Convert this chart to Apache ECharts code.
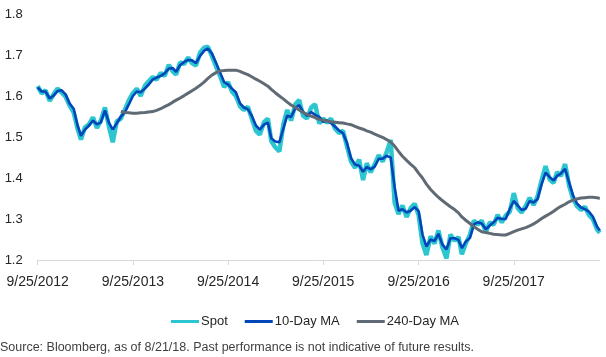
<!DOCTYPE html>
<html>
<head>
<meta charset="utf-8">
<script src="https://cdn.jsdelivr.net/npm/echarts@6/dist/echarts.min.js"></script>
<style>
  html, body { margin: 0; padding: 0; background: #fff; }
  #chart { width: 606px; height: 357px; }
</style>
</head>
<body>
<div id="chart"></div>
<script>
// half-monthly samples, 9/25/2012 .. 8/21/2018
var dates = [
  '2012-09-25','2012-10-10','2012-10-25','2012-11-10','2012-11-25','2012-12-10','2012-12-25',
  '2013-01-10','2013-01-25','2013-02-10','2013-02-25','2013-03-10','2013-03-25','2013-04-10','2013-04-25',
  '2013-05-10','2013-05-25','2013-06-10','2013-06-25','2013-07-10','2013-07-25','2013-08-10','2013-08-25',
  '2013-09-10','2013-09-25','2013-10-10','2013-10-25','2013-11-10','2013-11-25','2013-12-10','2013-12-25',
  '2014-01-10','2014-01-25','2014-02-10','2014-02-25','2014-03-10','2014-03-25','2014-04-10','2014-04-25',
  '2014-05-10','2014-05-25','2014-06-10','2014-06-25','2014-07-10','2014-07-25','2014-08-10','2014-08-25',
  '2014-09-10','2014-09-25','2014-10-10','2014-10-25','2014-11-10','2014-11-25','2014-12-10','2014-12-25',
  '2015-01-10','2015-01-25','2015-02-10','2015-02-25','2015-03-10','2015-03-25','2015-04-10','2015-04-25',
  '2015-05-10','2015-05-25','2015-06-10','2015-06-25','2015-07-10','2015-07-25','2015-08-10','2015-08-25',
  '2015-09-10','2015-09-25','2015-10-10','2015-10-25','2015-11-10','2015-11-25','2015-12-10','2015-12-25',
  '2016-01-10','2016-01-25','2016-02-10','2016-02-25','2016-03-10','2016-03-25','2016-04-10','2016-04-25',
  '2016-05-10','2016-05-25','2016-06-10','2016-06-25','2016-07-10','2016-07-25','2016-08-10','2016-08-25',
  '2016-09-10','2016-09-25','2016-10-10','2016-10-25','2016-11-10','2016-11-25','2016-12-10','2016-12-25',
  '2017-01-10','2017-01-25','2017-02-10','2017-02-25','2017-03-10','2017-03-25','2017-04-10','2017-04-25',
  '2017-05-10','2017-05-25','2017-06-10','2017-06-25','2017-07-10','2017-07-25','2017-08-10','2017-08-25',
  '2017-09-10','2017-09-25','2017-10-10','2017-10-25','2017-11-10','2017-11-25','2017-12-10','2017-12-25',
  '2018-01-10','2018-01-25','2018-02-10','2018-02-25','2018-03-10','2018-03-25','2018-04-10','2018-04-25',
  '2018-05-10','2018-05-25','2018-06-10','2018-06-25','2018-07-10','2018-07-25','2018-08-10','2018-08-21'
];

var spot = [
  1.624,1.606,1.614,1.588,1.604,1.618,1.609,1.598,1.577,1.560,1.520,1.494,1.523,1.531,1.548,1.522,
  1.540,1.572,1.526,1.487,1.538,1.545,1.566,1.590,1.607,1.618,1.600,1.625,1.636,1.646,1.640,1.656,
  1.649,1.676,1.660,1.652,1.682,1.678,1.694,1.680,1.674,1.706,1.718,1.720,1.698,1.672,1.650,1.622,
  1.634,1.611,1.600,1.575,1.566,1.574,1.545,1.515,1.506,1.536,1.545,1.490,1.475,1.465,1.530,1.566,
  1.540,1.580,1.590,1.552,1.545,1.572,1.580,1.533,1.545,1.535,1.545,1.520,1.510,1.515,1.478,1.440,
  1.425,1.445,1.395,1.436,1.414,1.434,1.456,1.440,1.462,1.493,1.340,1.312,1.333,1.305,1.326,1.337,
  1.310,1.240,1.212,1.258,1.240,1.272,1.232,1.204,1.262,1.247,1.256,1.214,1.240,1.262,1.296,1.286,
  1.296,1.268,1.292,1.286,1.310,1.292,1.308,1.318,1.363,1.327,1.316,1.332,1.352,1.334,1.355,1.395,
  1.429,1.396,1.388,1.414,1.405,1.434,1.382,1.350,1.332,1.322,1.330,1.310,1.300,1.275,1.266
];

var ma10 = [
  1.621,1.611,1.611,1.594,1.601,1.612,1.614,1.604,1.582,1.569,1.528,1.503,1.518,1.528,1.540,1.531,
  1.535,1.565,1.535,1.518,1.533,1.550,1.560,1.580,1.600,1.611,1.609,1.618,1.628,1.640,1.645,1.649,
  1.655,1.667,1.668,1.659,1.675,1.683,1.688,1.687,1.680,1.698,1.710,1.716,1.704,1.681,1.658,1.634,
  1.628,1.618,1.609,1.582,1.572,1.568,1.552,1.528,1.518,1.530,1.535,1.497,1.489,1.487,1.520,1.552,
  1.549,1.570,1.578,1.561,1.552,1.561,1.554,1.549,1.537,1.540,1.534,1.525,1.516,1.509,1.486,1.448,
  1.433,1.430,1.415,1.427,1.421,1.428,1.447,1.447,1.454,1.450,1.378,1.320,1.324,1.316,1.320,1.329,
  1.319,1.262,1.233,1.250,1.246,1.264,1.238,1.226,1.253,1.253,1.249,1.229,1.245,1.254,1.287,1.292,
  1.289,1.275,1.284,1.292,1.303,1.300,1.300,1.325,1.344,1.333,1.322,1.325,1.344,1.340,1.348,1.385,
  1.413,1.402,1.394,1.405,1.411,1.422,1.390,1.358,1.338,1.328,1.324,1.318,1.306,1.282,1.272
];

// 240-day average only begins in Aug 2013
var ma240 = [
  null,null,null,null,null,null,null,null,null,null,null,null,null,null,null,null,
  null,null,null,null,null,1.562,1.560,1.559,1.558,1.558,1.559,1.560,1.561,1.562,1.565,1.569,
  1.574,1.579,1.585,1.590,1.595,1.601,1.607,1.613,1.619,1.626,1.634,1.643,1.651,1.657,1.661,1.662,
  1.663,1.663,1.663,1.660,1.656,1.652,1.647,1.641,1.636,1.630,1.624,1.616,1.608,1.600,1.593,1.585,
  1.578,1.572,1.566,1.560,1.555,1.551,1.547,1.543,1.541,1.539,1.537,1.536,1.535,1.534,1.532,1.530,
  1.526,1.522,1.519,1.515,1.512,1.507,1.503,1.499,1.494,1.488,1.478,1.465,1.453,1.443,1.434,1.425,
  1.412,1.400,1.385,1.372,1.362,1.353,1.345,1.337,1.330,1.323,1.315,1.305,1.297,1.289,1.281,1.275,
  1.269,1.267,1.265,1.263,1.262,1.261,1.261,1.265,1.269,1.273,1.276,1.279,1.283,1.288,1.294,1.301,
  1.307,1.313,1.319,1.325,1.331,1.336,1.342,1.346,1.349,1.351,1.352,1.353,1.353,1.352,1.350
];

var tickDates = ['2012-09-25','2013-09-25','2014-09-25','2015-09-25','2016-09-25','2017-09-25'];
var tickLabels = ['9/25/2012','9/25/2013','9/25/2014','9/25/2015','9/25/2016','9/25/2017'];

var FONT = '"Liberation Sans", Arial, sans-serif';

function toTime(d) {
  return echarts.number.parseDate(d).getTime();
}
var times = dates.map(toTime);
var tickTimes = tickDates.map(toTime);

function pairs(vals) {
  return times.map(function (t, i) { return [t, vals[i]]; });
}

var chart = echarts.init(document.getElementById('chart'), null, { renderer: 'canvas' });
chart.setOption({
  animation: false,
  color: ['#2CC6D0', '#0046BB', '#5F6A74'],
  grid: { left: 37.7, right: 6.2, top: 14, bottom: 97, containLabel: false },
  legend: {
    left: 166,
    top: 310,
    itemWidth: 28,
    itemHeight: 3,
    itemGap: 17,
    icon: 'rect',
    textStyle: { fontFamily: FONT, fontSize: 13, color: '#262626', padding: [0, 0, 0, -3] },
    data: ['Spot', '10-Day MA', '240-Day MA']
  },
  xAxis: {
    type: 'value',
    min: times[0],
    max: times[times.length - 1],
    axisLine: { lineStyle: { color: '#D9D9D9', width: 1 } },
    axisTick: { show: true, length: 5, lineStyle: { color: '#D9D9D9' }, customValues: tickTimes },
    splitLine: { show: false },
    axisLabel: {
      customValues: tickTimes,
      margin: 15,
      fontFamily: FONT,
      fontSize: 14,
      color: '#262626',
      hideOverlap: false,
      formatter: function (v) {
        var i = tickTimes.indexOf(v);
        return i >= 0 ? tickLabels[i] : '';
      }
    }
  },
  yAxis: {
    type: 'value',
    min: 1.2,
    max: 1.8,
    interval: 0.1,
    axisLine: { show: false },
    axisTick: { show: false },
    splitLine: { show: false },
    axisLabel: {
      margin: 15,
      fontFamily: FONT,
      fontSize: 13,
      color: '#262626',
      formatter: function (v) { return v.toFixed(1); }
    }
  },
  series: [
    { name: 'Spot', type: 'line', data: pairs(spot), showSymbol: false, lineStyle: { width: 4.5 } },
    { name: '10-Day MA', type: 'line', data: pairs(ma10), showSymbol: false, lineStyle: { width: 2.6 } },
    { name: '240-Day MA', type: 'line', data: pairs(ma240), showSymbol: false, lineStyle: { width: 3 } }
  ],
  graphic: [{
    type: 'text',
    left: 0,
    top: 341,
    style: {
      text: 'Source: Bloomberg, as of 8/21/18. Past performance is not indicative of future results.',
      font: '12.5px ' + FONT,
      fill: '#404040'
    }
  }]
});
</script>
</body>
</html>
